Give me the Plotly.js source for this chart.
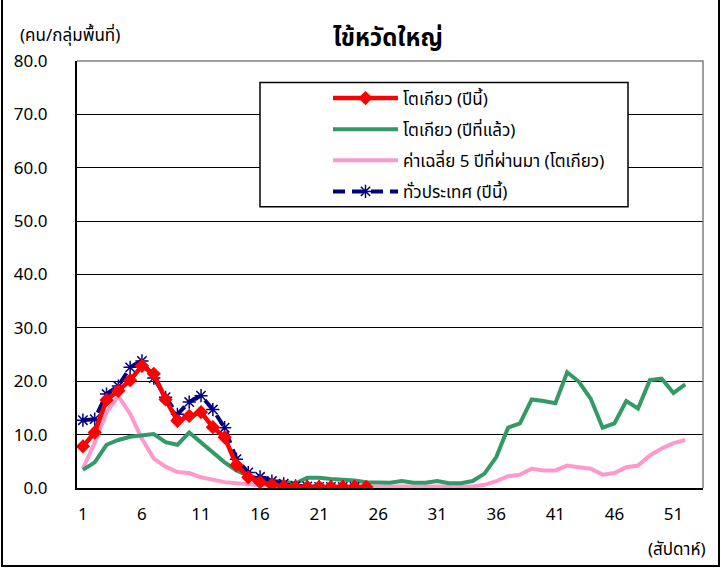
<!DOCTYPE html>
<html>
<head>
<meta charset="utf-8">
<script src="https://cdn.plot.ly/plotly-3.0.1.min.js"></script>
<style>
html,body{margin:0;padding:0;background:#fff;}
#wrap{position:relative;width:721px;height:569px;}
#chart{width:721px;height:569px;}
#frame{position:absolute;left:1px;top:0;width:715px;height:565px;border:2px solid #000;border-top:none;pointer-events:none;}
</style>
</head>
<body>
<div id="wrap"><div id="chart"></div><div id="frame"></div></div>
<script>
// ---- data ----
const weeks = [1,2,3,4,5,6,7,8,9,10,11,12,13,14,15,16,17,18,19,20,21,22,23,24,25,26,
  27,28,29,30,31,32,33,34,35,36,37,38,39,40,41,42,43,44,45,46,47,48,49,50,51,52];
const xTickLabels = [1,6,11,16,21,26,31,36,41,46,51];

const tokyoThisYear = [7.8,10.4,16.5,18.2,20.2,22.9,21.4,16.6,12.6,13.5,14.2,11.4,9.5,4.3,2.0,1.1,0.6,0.3,0.2,0.2,0.2,0.2,0.2,0.2,0.2];
const tokyoLastYear = [3.4,4.8,8.1,9.0,9.6,9.8,10.1,8.6,8.1,10.4,8.6,6.6,4.8,3.3,2.3,1.7,1.4,1.1,0.9,1.9,1.9,1.7,1.6,1.4,1.1,1.0,
  1.0,1.3,1.0,1.0,1.3,0.9,0.9,1.3,2.7,5.8,11.3,12.1,16.6,16.3,15.9,21.7,19.9,16.7,11.3,12.1,16.3,14.9,20.2,20.5,17.8,19.4];
const tokyo5YearAvg = [3.6,8.5,14.2,17.2,13.9,9.2,5.5,4.0,3.0,2.8,2.0,1.5,1.1,0.9,0.7,0.5,0.4,0.3,0.3,0.3,0.3,0.3,0.2,0.2,0.2,0.2,
  0.2,0.2,0.2,0.2,0.2,0.2,0.2,0.3,0.6,1.3,2.2,2.5,3.6,3.3,3.3,4.2,3.9,3.6,2.5,2.8,3.9,4.2,6.1,7.4,8.4,9.0];
const nationThisYear = [12.7,12.9,17.6,19.1,22.6,23.8,20.6,17.0,13.8,16.1,17.3,14.7,11.3,5.4,2.9,2.1,1.3,0.8,0.4,0.3,0.2,0.2,0.2,0.2];

const seriesNames = ['โตเกียว (ปีนี้)','โตเกียว (ปีที่แล้ว)','ค่าเฉลี่ย 5 ปีที่ผ่านมา (โตเกียว)','ทั่วประเทศ (ปีนี้)'];

const FONT = "'Noto Sans Thai','Noto Sans','DejaVu Sans',sans-serif";

const traces = [
  {x: weeks.slice(0, tokyo5YearAvg.length), y: tokyo5YearAvg, name: seriesNames[2], type:'scatter', mode:'lines',
   line:{color:'#FF99CC', width:4}, legendrank:3, legendgroup:'c'},
  {x: weeks.slice(0, tokyoLastYear.length), y: tokyoLastYear, name: seriesNames[1], type:'scatter', mode:'lines',
   line:{color:'#339966', width:4}, legendrank:2, legendgroup:'b'},
  {x: weeks.slice(0, nationThisYear.length), y: nationThisYear, name: seriesNames[3], type:'scatter', mode:'lines+markers',
   line:{color:'#000080', width:4, dash:'12px,7px'}, marker:{symbol:'asterisk-open', size:11, color:'#000080', line:{width:1.5, color:'#000080'}},
   legendrank:4, legendgroup:'d'},
  {x: weeks.slice(0, tokyoThisYear.length), y: tokyoThisYear, name: seriesNames[0], type:'scatter', mode:'lines+markers',
   line:{color:'#FF0000', width:4.5}, marker:{symbol:'diamond', size:11, color:'#FF0000'},
   legendrank:1, legendgroup:'a'}
];

const layout = {
  width:721, height:569,
  margin:{l:77, r:18, t:61, b:81, pad:0},
  paper_bgcolor:'#fff', plot_bgcolor:'#fff',
  font:{family:FONT, color:'#000', size:15},
  showlegend:true,
  title:{text:'ไข้หวัดใหญ่', font:{family:FONT, size:24, color:'#000', weight:'bold'},
         xref:'container', yref:'container', x:388/721, xanchor:'center', y:1-38/569, yanchor:'middle'},
  xaxis:{type:'linear', range:[0.5,53.5], tickmode:'array', tickvals:xTickLabels, ticktext:xTickLabels.map(String),
         ticks:'', showgrid:false, zeroline:false, showline:true, linecolor:'#000', linewidth:2,
         tickfont:{family:FONT, size:17, color:'#000'}, ticklabelstandoff:10},
  xaxis2:{overlaying:'x', matches:'x', anchor:'y', side:'bottom', range:[0.5,53.5], tickmode:'array',
          tickvals:xTickLabels.slice(1).map(v => v - 0.5), showticklabels:false, ticks:'inside', ticklen:5, tickwidth:1.5,
          tickcolor:'#000', showgrid:false, zeroline:false, showline:false},
  yaxis:{range:[0,80], tickmode:'linear', tick0:0, dtick:10, tickformat:'.1f', showgrid:true, gridcolor:'#000', gridwidth:1.2,
         zeroline:false, showline:true, linecolor:'#000', linewidth:2, ticks:'',
         tickfont:{family:FONT, size:17, color:'#000'}, ticklabelstandoff:24},
  legend:{x:(328-77)/626, xanchor:'left', y:(487.5-81)/426, yanchor:'top', bgcolor:'rgba(0,0,0,0)', borderwidth:0,
          itemwidth:65, font:{family:FONT, size:17, color:'#000'}, tracegroupgap:6, traceorder:'grouped'},
  shapes:[
    {type:'path', xref:'paper', yref:'paper', path:'M0,1 L1,1 L1,0', line:{color:'#808080', width:1.5}, layer:'above'},
    {type:'rect', xref:'paper', yref:'paper', x0:(260-77)/626, x1:(628-77)/626, y0:(487.5-207)/426, y1:(487.5-83)/426,
     line:{color:'#000', width:1.5}, fillcolor:'#fff', layer:'above'}
  ],
  annotations:[
    {text:'(คน/กลุ่มพื้นที่)', xref:'paper', yref:'paper', x:(18-77)/626, xanchor:'left', y:(487.5-37)/426, yanchor:'middle',
     showarrow:false, font:{family:FONT, size:17, color:'#000'}},
    {text:'(สัปดาห์)', xref:'paper', yref:'paper', x:(708-77)/626, xanchor:'right', y:(487.5-549)/426, yanchor:'middle',
     showarrow:false, font:{family:FONT, size:17, color:'#000'}}
  ]
};

Plotly.newPlot('chart', traces, layout, {staticPlot:true, displayModeBar:false});
</script>
</body>
</html>
